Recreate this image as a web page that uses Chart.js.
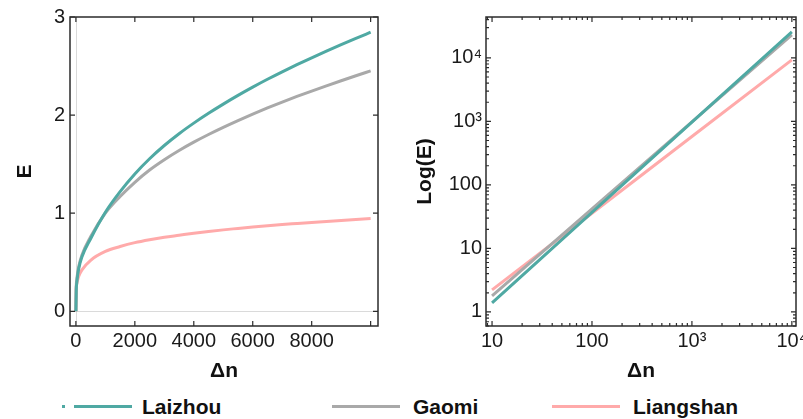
<!DOCTYPE html>
<html>
<head>
<meta charset="utf-8">
<script src="https://cdn.jsdelivr.net/npm/chart.js@4"></script>
<style>
  html, body { margin: 0; padding: 0; background: #fff; overflow: hidden; }
  body { width: 803px; height: 419px; position: relative; font-family: "Liberation Sans", Arial, sans-serif; }
  #leftBox { position: absolute; left: 0; top: 0; width: 400px; height: 390px; }
  #rightBox { position: absolute; left: 400px; top: 0; width: 420px; height: 390px; }
  .lg-line { position: absolute; height: 3px; top: 405px; }
  .lg-text { position: absolute; top: 396px; font-size: 21px; line-height: 21px; font-weight: bold; color: #111; white-space: nowrap; }
</style>
</head>
<body>
<div id="leftBox"><canvas id="linChart"></canvas></div>
<div id="rightBox"><canvas id="logChart"></canvas></div>

<div class="lg-line" style="left:62px; width:3px; background:#4fa9a3;"></div>
<div class="lg-line" style="left:74px; width:58px; background:#4fa9a3;"></div>
<div class="lg-text" style="left:142px;">Laizhou</div>
<div class="lg-line" style="left:332px; width:68px; background:#a9a9a9;"></div>
<div class="lg-text" style="left:413px;">Gaomi</div>
<div class="lg-line" style="left:552px; width:68px; background:#ffaaaa;"></div>
<div class="lg-text" style="left:633px;">Liangshan</div>

<script>
// left panel: E against delta n (linear axes)
var deltaN = [0, 10, 30, 60, 100, 200, 500, 1000, 1500, 2000, 2500, 3000, 3500, 4000, 4500, 5000,
              5500, 6000, 6500, 7000, 7500, 8000, 8500, 9000, 9500, 10000];
var laizhouE = [0, 0.20, 0.29, 0.37, 0.44, 0.55, 0.74, 1.01, 1.22, 1.40, 1.555, 1.69, 1.81, 1.918, 2.018, 2.112,
                2.201, 2.285, 2.365, 2.441, 2.514, 2.584, 2.652, 2.718, 2.782, 2.845];
var gaomiE = [0, 0.23, 0.32, 0.39, 0.46, 0.57, 0.76, 1.00, 1.17, 1.315, 1.44, 1.545, 1.639, 1.724, 1.802, 1.875,
              1.944, 2.01, 2.073, 2.133, 2.19, 2.245, 2.298, 2.35, 2.401, 2.451];
var liangshanE = [0, 0.22, 0.28, 0.32, 0.36, 0.42, 0.52, 0.61, 0.66, 0.70, 0.73, 0.755, 0.775, 0.795, 0.813, 0.83,
                  0.845, 0.86, 0.873, 0.885, 0.895, 0.905, 0.915, 0.925, 0.935, 0.945];

// right panel: log-log
var logDeltaN = [10, 100, 1000, 10000];
var laizhouLog = [1.39, 36.9, 973, 25700];
var gaomiLog = [1.79, 41.9, 982, 23000];
var liangshanLog = [2.22, 35.8, 577, 9300];

var seriesNames = ["Laizhou", "Gaomi", "Liangshan"];
var seriesColors = ["#4fa9a3", "#a9a9a9", "#ffaaaa"];

var linXTicks = [0, 2000, 4000, 6000, 8000, 10000];
var linXLabels = ["0", "2000", "4000", "6000", "8000", ""];
var linYTicks = [0, 1, 2, 3];
var logXTicks = [10, 100, 1000, 10000];
var logXLabels = ["10", "100", "10³", "10⁴"];
var logYTicks = [1, 10, 100, 1000, 10000];
var logYLabels = ["1", "10", "100", "10³", "10⁴"];

var FONT = "'Liberation Sans', Arial, sans-serif";

function pts(xs, ys) {
    return xs.map((x, i) => ({ x: x, y: ys[i] }));
}

function minorsFor(lo, hi) {
    var out = [];
    for (var d = Math.pow(10, Math.floor(Math.log10(lo))); d <= hi; d *= 10) {
        for (var k = 2; k <= 9; k++) {
            var v = d * k;
            if (v > lo && v < hi) out.push(v);
        }
    }
    return out;
}

// frame round the plot area with small inward ticks, plus zero lines
var framePlugin = {
    id: "frame",
    beforeDatasetsDraw: function(chart, args, opts) {
        if (!opts.zeroLines) return;
        var ctx = chart.ctx, a = chart.chartArea;
        var xs = chart.scales.x, ys = chart.scales.y;
        ctx.save();
        ctx.strokeStyle = "#dadada";
        ctx.lineWidth = 1;
        var px = Math.round(xs.getPixelForValue(0)) + 0.5;
        var py = Math.round(ys.getPixelForValue(0)) + 0.5;
        ctx.beginPath();
        ctx.moveTo(px, a.top); ctx.lineTo(px, a.bottom);
        ctx.moveTo(a.left, py); ctx.lineTo(a.right, py);
        ctx.stroke();
        ctx.restore();
    },
    afterDraw: function(chart, args, opts) {
        var ctx = chart.ctx, a = chart.chartArea;
        var xs = chart.scales.x, ys = chart.scales.y;
        ctx.save();
        ctx.strokeStyle = "#2b2b2b";
        ctx.lineWidth = 1.5;
        ctx.strokeRect(a.left, a.top, a.right - a.left, a.bottom - a.top);
        ctx.lineWidth = 1.2;
        ctx.beginPath();
        function xt(list, len) {
            list.forEach(function(v) {
                var p = xs.getPixelForValue(v);
                ctx.moveTo(p, a.bottom); ctx.lineTo(p, a.bottom - len);
                ctx.moveTo(p, a.top); ctx.lineTo(p, a.top + len);
            });
        }
        function yt(list, len) {
            list.forEach(function(v) {
                var p = ys.getPixelForValue(v);
                ctx.moveTo(a.left, p); ctx.lineTo(a.left + len, p);
                ctx.moveTo(a.right, p); ctx.lineTo(a.right - len, p);
            });
        }
        xt(opts.xMajor, 5);
        yt(opts.yMajor, 5);
        if (opts.xMinor) xt(opts.xMinor, 3);
        if (opts.yMinor) yt(opts.yMinor, 3);
        ctx.stroke();
        ctx.restore();
    }
};

function makeSets(xs, a, b, c, smooth) {
    return [a, b, c].map(function(ys, i) {
        return {
            label: seriesNames[i],
            data: pts(xs, ys),
            borderColor: seriesColors[i],
            backgroundColor: seriesColors[i],
            borderWidth: 3,
            pointRadius: 0,
            fill: false,
            cubicInterpolationMode: smooth ? "monotone" : "default",
            tension: 0
        };
    });
}

var tickFont = { family: FONT, size: 20 };
var titleFont = { family: FONT, size: 21, weight: "bold" };

new Chart(document.getElementById("linChart"), {
    type: "line",
    data: { datasets: makeSets(deltaN, laizhouE, gaomiE, liangshanE, true) },
    plugins: [framePlugin],
    options: {
        responsive: true,
        maintainAspectRatio: false,
        animation: false,
        layout: { padding: { left: 0, right: 22, top: 17, bottom: 0 } },
        plugins: {
            legend: { display: false },
            tooltip: { enabled: false },
            frame: { zeroLines: true, xMajor: linXTicks, yMajor: linYTicks }
        },
        scales: {
            x: {
                type: "linear",
                min: -200,
                max: 10250,
                afterFit: function(s) { s.height = 64; },
                afterBuildTicks: function(s) { s.ticks = linXTicks.map(v => ({ value: v })); },
                grid: { display: false, drawTicks: false },
                border: { display: false },
                ticks: {
                    autoSkip: false, maxRotation: 0, padding: 3, color: "#1a1a1a", font: tickFont,
                    callback: function(v) { var i = linXTicks.indexOf(v); return i < 0 ? "" : linXLabels[i]; }
                },
                title: { display: true, text: "Δn", color: "#111", font: titleFont, padding: { top: 0, bottom: 6 } }
            },
            y: {
                type: "linear",
                min: -0.15,
                max: 3,
                afterFit: function(s) { s.width = 70; },
                afterBuildTicks: function(s) { s.ticks = linYTicks.map(v => ({ value: v })); },
                grid: { display: false, drawTicks: false },
                border: { display: false },
                ticks: { autoSkip: false, padding: 5, color: "#1a1a1a", font: tickFont },
                title: { display: true, text: "E", color: "#111", font: titleFont, padding: { top: 13, bottom: 0 } }
            }
        }
    }
});

new Chart(document.getElementById("logChart"), {
    type: "line",
    data: { datasets: makeSets(logDeltaN, laizhouLog, gaomiLog, liangshanLog, false) },
    plugins: [framePlugin],
    options: {
        responsive: true,
        maintainAspectRatio: false,
        animation: false,
        layout: { padding: { left: 0, right: 24, top: 17, bottom: 0 } },
        plugins: {
            legend: { display: false },
            tooltip: { enabled: false },
            frame: {
                zeroLines: false,
                xMajor: logXTicks, yMajor: logYTicks,
                xMinor: minorsFor(8.7, 11000), yMinor: minorsFor(0.6, 44000)
            }
        },
        scales: {
            x: {
                type: "logarithmic",
                min: 8.7,
                max: 11000,
                afterFit: function(s) { s.height = 64; },
                afterBuildTicks: function(s) { s.ticks = logXTicks.map(v => ({ value: v })); },
                grid: { display: false, drawTicks: false },
                border: { display: false },
                ticks: {
                    autoSkip: false, maxRotation: 0, padding: 3, color: "#1a1a1a", font: tickFont,
                    callback: function(v) { var i = logXTicks.indexOf(v); return i < 0 ? "" : logXLabels[i]; }
                },
                title: { display: true, text: "Δn", color: "#111", font: titleFont, padding: { top: 0, bottom: 6 } }
            },
            y: {
                type: "logarithmic",
                min: 0.6,
                max: 44000,
                afterFit: function(s) { s.width = 86; },
                afterBuildTicks: function(s) { s.ticks = logYTicks.map(v => ({ value: v })); },
                grid: { display: false, drawTicks: false },
                border: { display: false },
                ticks: {
                    autoSkip: false, padding: 4, color: "#1a1a1a", font: tickFont,
                    callback: function(v) { var i = logYTicks.indexOf(v); return i < 0 ? "" : logYLabels[i]; }
                },
                title: { display: true, text: "Log(E)", color: "#111", font: titleFont, padding: { top: 13, bottom: 0 } }
            }
        }
    }
});
</script>
</body>
</html>
